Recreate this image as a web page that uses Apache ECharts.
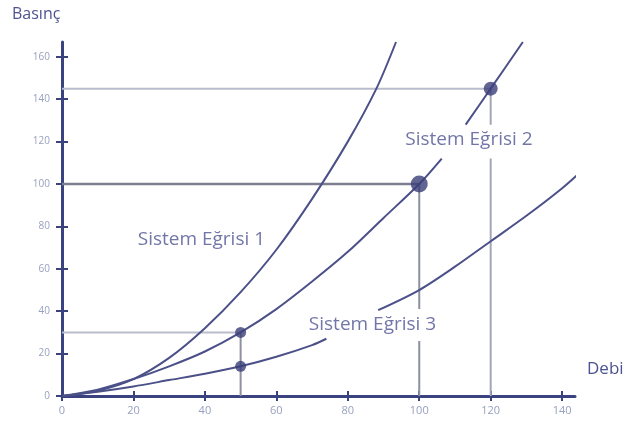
<!DOCTYPE html>
<html>
<head>
<meta charset="utf-8">
<script src="https://cdn.jsdelivr.net/npm/echarts@6/dist/echarts.min.js"></script>
<style>
  html, body { margin: 0; padding: 0; background: #fff; }
  #chart { width: 637px; height: 423px; }
</style>
</head>
<body>
<div id="chart"></div>
<script>
// tick values on the axes
var xTicks = [0, 20, 40, 60, 80, 100, 120, 140];
var yTicks = [0, 20, 40, 60, 80, 100, 120, 140, 160];

// system curves, [debi, basinc]; '-' breaks the line where a label sits
var curve1 = [[0, 0], [10, 2.5], [20, 8], [30, 18], [40, 32], [50, 49], [60, 69], [70, 93], [80, 120], [88, 145], [93.5, 167]];
var curve2 = [[0, 0], [10, 3], [20, 8], [30, 14], [40, 21], [50, 30], [60, 41], [70, 54], [80, 68], [90, 84], [100, 100], [106.3, 112],
    '-', [113, 128], [120, 145], [129, 167]];
var curve3 = [[0, 0], [10, 2], [20, 4.5], [30, 7.5], [40, 10.5], [50, 14], [60, 18.5], [70, 24], [74, 27],
    '-', [88.5, 40.5], [100, 50], [110, 61], [120, 73], [130, 85], [140, 98], [146, 107]];

// operating points
var points = [[50, 30], [50, 14], [100, 100], [120, 145]];
var pointSizes = [11, 11, 17, 14];

// guide lines to the axes
var guide145 = [[0, 145], [120, 145]];
var guide120 = [[120, 145], [120, 128], '-', [120, 112], [120, 0]];
var guide100h = [[0, 100], [100, 100]];
var guide100v = [[100, 100], [100, 41], '-', [100, 26], [100, 0]];
var guide30 = [[0, 30], [50, 30]];
var guide50 = [[50, 30], [50, 0]];

// curve names, anchored at their left edge
var curveNames = ['Sistem Eğrisi 1', 'Sistem Eğrisi 2', 'Sistem Eğrisi 3'];
var namePos = [[21.2, 73.6], [96.1, 120.8], [69.1, 33.5]];

var chart = echarts.init(document.getElementById('chart'));

var axisColor = '#3a4380';
var curveColor = '#4b5088';
var textColor = '#4d5391';
var tickLabelColor = '#98a0bf';

function guide(data, color, width) {
    return {
        type: 'line',
        data: data,
        symbol: 'none',
        silent: true,
        connectNulls: false,
        lineStyle: { color: color, width: width },
        z: 1
    };
}

function curve(data) {
    return {
        type: 'line',
        data: data,
        symbol: 'none',
        smooth: 0.3,
        connectNulls: false,
        lineStyle: { color: curveColor, width: 2 },
        z: 3
    };
}

var labelData = namePos.map(function (p, i) {
    return { value: p, name: curveNames[i] };
});

var option = {
    animation: false,
    grid: { left: 62, top: 42, width: 513, height: 354 },
    xAxis: [{
        type: 'value',
        min: 0,
        max: 143.6,
        name: 'Debi',
        nameLocation: 'end',
        nameGap: 12,
        nameTextStyle: { color: textColor, fontSize: 17, fontFamily: 'Open Sans', verticalAlign: 'bottom', padding: [0, 0, 18, 0] },
        axisLine: { lineStyle: { color: axisColor, width: 3 } },
        axisTick: { customValues: xTicks, length: 5, lineStyle: { color: axisColor, width: 2 } },
        axisLabel: { customValues: xTicks, color: tickLabelColor, fontSize: 11, fontFamily: 'Open Sans', margin: 9 },
        splitLine: { show: false }
    }, {
        type: 'value',
        min: 0,
        max: 143.6,
        position: 'bottom',
        axisLine: { show: false },
        axisTick: { inside: true, customValues: xTicks, length: 5, lineStyle: { color: axisColor, width: 2 } },
        axisLabel: { show: false },
        splitLine: { show: false }
    }],
    yAxis: [{
        type: 'value',
        min: 0,
        max: 167,
        axisLine: { lineStyle: { color: axisColor, width: 3 } },
        axisTick: { customValues: yTicks, length: 6, lineStyle: { color: axisColor, width: 2 } },
        axisLabel: { customValues: yTicks, color: tickLabelColor, fontSize: 10, fontFamily: 'Open Sans', margin: 12 },
        splitLine: { show: false }
    }, {
        type: 'value',
        min: 0,
        max: 167,
        position: 'left',
        axisLine: { show: false },
        axisTick: { inside: true, customValues: yTicks, length: 6, lineStyle: { color: axisColor, width: 2 } },
        axisLabel: { show: false },
        splitLine: { show: false }
    }],
    graphic: [{
        type: 'text',
        left: 12,
        top: 6,
        style: { text: 'Basınç', fill: textColor, fontSize: 16, fontFamily: 'Open Sans' }
    }],
    series: [
        guide(guide145, '#b9bccb', 2),
        guide(guide120, '#a3a6b6', 2),
        guide(guide100h, '#7d7f90', 2.5),
        guide(guide100v, '#8e90a2', 2),
        guide(guide30, '#b9bccb', 2),
        guide(guide50, '#8e90a2', 2),
        curve(curve1),
        curve(curve2),
        curve(curve3),
        {
            type: 'scatter',
            data: points.map(function (p, i) {
                return { value: p, symbolSize: pointSizes[i] };
            }),
            itemStyle: { color: '#3b3f78' },
            z: 5
        },
        {
            type: 'scatter',
            data: labelData,
            symbolSize: 0,
            silent: true,
            label: {
                show: true,
                position: 'right',
                distance: 0,
                formatter: '{b}',
                color: textColor,
                fontSize: 19,
                fontFamily: 'Open Sans'
            },
            z: 6
        }
    ]
};

chart.setOption(option);
</script>
</body>
</html>
